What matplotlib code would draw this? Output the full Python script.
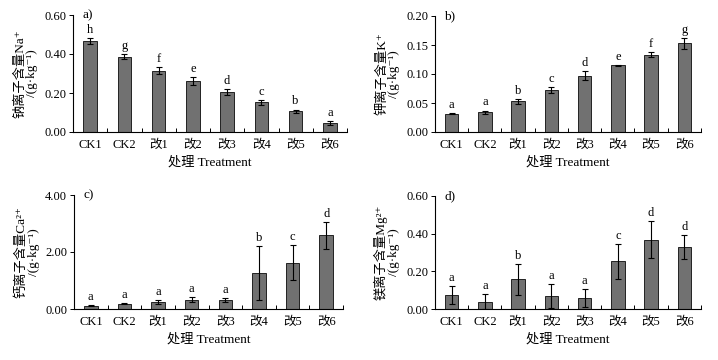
import matplotlib
matplotlib.use("Agg")
import matplotlib.pyplot as plt
import numpy as np
from matplotlib.ticker import FormatStrFormatter, FixedLocator

plt.rcParams['font.family'] = ['Liberation Serif', 'Noto Sans CJK SC', 'DejaVu Serif']
plt.rcParams['axes.unicode_minus'] = False

categories = ["CK1", "CK2", "改1", "改2", "改3", "改4", "改5", "改6"]

na_mean = [0.467, 0.387, 0.314, 0.261, 0.205, 0.152, 0.106, 0.046]
na_err = [0.017, 0.014, 0.019, 0.020, 0.017, 0.014, 0.009, 0.010]
na_sig = ["h", "g", "f", "e", "d", "c", "b", "a"]

k_mean = [0.0315, 0.034, 0.053, 0.072, 0.097, 0.115, 0.1335, 0.153]
k_err = [0.001, 0.003, 0.004, 0.005, 0.008, 0.001, 0.0037, 0.0095]
k_sig = ["a", "a", "b", "c", "d", "e", "f", "g"]

ca_mean = [0.117, 0.19, 0.245, 0.33, 0.30, 1.26, 1.63, 2.58]
ca_err = [0.02, 0.01, 0.07, 0.08, 0.07, 0.95, 0.60, 0.47]
ca_sig = ["a", "a", "a", "a", "a", "b", "c", "d"]

mg_mean = [0.074, 0.039, 0.157, 0.069, 0.058, 0.253, 0.369, 0.329]
mg_err = [0.046, 0.040, 0.083, 0.062, 0.047, 0.094, 0.100, 0.065]
mg_sig = ["a", "a", "b", "a", "a", "c", "d", "d"]

W, H = 718, 360
fig = plt.figure(figsize=(W / 100, H / 100), dpi=100)


def px_axes(l, r, t, b):
    return fig.add_axes([l / W, 1 - b / H, (r - l) / W, (b - t) / H])


panels = [
    (px_axes(73, 347, 15, 132), na_mean, na_err, na_sig, 0.60, [0, 0.2, 0.4, 0.6], "钠离子含量Na⁺", "a)"),
    (px_axes(435, 701, 16, 132), k_mean, k_err, k_sig, 0.20, [0, 0.05, 0.10, 0.15, 0.20], "钾离子含量K⁺", "b)"),
    (px_axes(74, 343, 195, 309), ca_mean, ca_err, ca_sig, 4.00, [0, 2.0, 4.0], "钙离子含量Ca²⁺", "c)"),
    (px_axes(435, 701, 196, 309), mg_mean, mg_err, mg_sig, 0.60, [0, 0.2, 0.4, 0.6], "镁离子含量Mg²⁺", "d)"),
]

fs = 9
for ax, mean, err, sig, ymax, yt, ylab, tag in panels:
    x = np.arange(len(categories))
    ax.bar(x, mean, width=0.4, color="#717171", edgecolor="#222222", linewidth=0.7, zorder=2)
    ax.errorbar(x, mean, yerr=err, fmt="none", ecolor="black", elinewidth=0.8,
                capsize=2.5, capthick=0.8, zorder=3)
    for xi, m, e, s in zip(x, mean, err, sig):
        ax.annotate(s, (xi, m + e), xytext=(0, 1.5), textcoords="offset points",
                    ha="center", va="bottom", fontsize=fs)
    ax.set_xlim(-0.5, len(categories) - 0.5)
    ax.set_ylim(0, ymax)
    ax.set_yticks(yt)
    ax.yaxis.set_major_formatter(FormatStrFormatter('%.2f'))
    ax.set_xticks(x)
    ax.set_xticklabels(categories, fontsize=fs)
    ax.xaxis.set_minor_locator(FixedLocator(np.arange(0.5, len(categories), 1.0)))
    ax.tick_params(axis='x', which='major', length=0, pad=5)
    ax.tick_params(axis='x', which='minor', direction='in', length=3, width=0.7)
    ax.tick_params(axis='y', direction='out', length=3, width=0.7, labelsize=fs, pad=2)
    for sp in ("top", "right"):
        ax.spines[sp].set_visible(False)
    for sp in ("left", "bottom"):
        ax.spines[sp].set_linewidth(0.8)
    ax.set_xlabel("处理 Treatment", fontsize=9.5, labelpad=4)
    ax.set_ylabel(ylab + "\n/(g·kg⁻¹)", fontsize=9.5, labelpad=4, linespacing=1.05)
    ax.text(0.035, 1.0, tag, transform=ax.transAxes, ha="left", va="center", fontsize=fs + 0.5)

fig.savefig("out.png", dpi=100)
